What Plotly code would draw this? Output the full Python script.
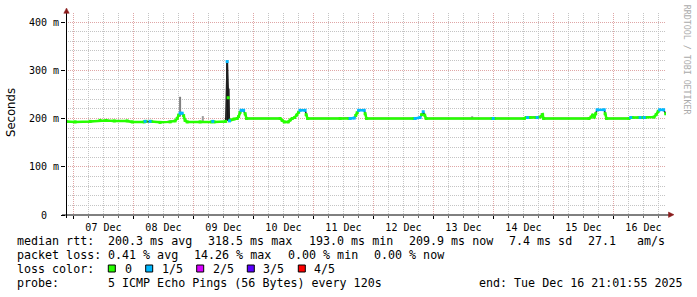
import plotly.graph_objects as go

# ---------------- data ----------------
start_time = "2025-12-06 21:01:55"
end_time = "2025-12-16 21:01:55"

times = [
    "2025-12-06 21:05", "2025-12-07 00:40", "2025-12-07 06:40", "2025-12-07 10:40", "2025-12-07 13:05",
    "2025-12-07 16:20", "2025-12-07 21:30", "2025-12-07 23:30", "2025-12-08 04:20", "2025-12-08 04:40",
    "2025-12-08 05:05", "2025-12-08 06:40", "2025-12-08 07:05", "2025-12-08 10:40", "2025-12-08 14:40",
    "2025-12-08 16:40", "2025-12-08 17:30", "2025-12-08 18:05", "2025-12-08 18:40", "2025-12-08 19:30",
    "2025-12-08 20:05", "2025-12-08 20:40", "2025-12-08 21:30", "2025-12-09 02:40", "2025-12-09 07:20",
    "2025-12-09 07:45", "2025-12-09 08:15", "2025-12-09 12:55", "2025-12-09 13:30", "2025-12-09 13:55",
    "2025-12-09 14:25", "2025-12-09 14:55", "2025-12-09 16:15", "2025-12-09 17:30", "2025-12-09 18:05",
    "2025-12-09 18:40", "2025-12-09 19:05", "2025-12-09 20:05", "2025-12-09 20:40", "2025-12-09 21:15",
    "2025-12-10 10:40", "2025-12-10 11:30", "2025-12-10 12:20", "2025-12-10 13:55", "2025-12-10 14:40",
    "2025-12-10 15:30", "2025-12-10 16:30", "2025-12-10 17:20", "2025-12-10 18:05", "2025-12-10 18:40",
    "2025-12-10 20:40", "2025-12-10 21:05", "2025-12-10 21:40", "2025-12-11 10:40", "2025-12-11 14:15",
    "2025-12-11 14:40", "2025-12-11 16:20", "2025-12-11 16:55", "2025-12-11 17:30", "2025-12-11 18:05",
    "2025-12-11 20:20", "2025-12-11 20:40", "2025-12-11 21:15", "2025-12-12 16:15", "2025-12-12 16:40",
    "2025-12-12 18:40", "2025-12-12 19:15", "2025-12-12 19:55", "2025-12-12 20:30", "2025-12-12 21:05",
    "2025-12-13 23:30", "2025-12-13 23:55", "2025-12-14 00:20", "2025-12-14 12:20", "2025-12-14 13:05",
    "2025-12-14 13:40", "2025-12-14 14:40", "2025-12-14 17:05", "2025-12-14 17:30", "2025-12-14 18:40",
    "2025-12-14 19:40", "2025-12-14 20:05", "2025-12-15 14:15", "2025-12-15 15:05", "2025-12-15 15:40",
    "2025-12-15 16:20", "2025-12-15 16:55", "2025-12-15 17:30", "2025-12-15 20:20", "2025-12-15 20:40",
    "2025-12-15 21:15", "2025-12-16 06:15", "2025-12-16 06:55", "2025-12-16 07:30", "2025-12-16 10:15",
    "2025-12-16 10:40", "2025-12-16 11:15", "2025-12-16 12:20", "2025-12-16 12:40", "2025-12-16 16:15",
    "2025-12-16 17:05", "2025-12-16 17:55", "2025-12-16 18:30", "2025-12-16 20:05", "2025-12-16 20:55",
]
median_ms = [
    194, 193, 194, 196, 196,
    195, 195, 193, 193, 194,
    194, 194, 194, 192, 193,
    195, 200, 207, 211, 211,
    206, 196, 193, 193, 193,
    194, 193, 194, 318, 243,
    195, 197, 199, 200, 204,
    213, 217, 217, 210, 200,
    200, 196, 193, 193, 197,
    200, 202, 207, 213, 217,
    217, 208, 200, 200, 200,
    200, 201, 206, 212, 217,
    217, 210, 200, 200, 200,
    202, 208, 214, 207, 200,
    200, 200, 200, 200, 202,
    202, 202, 202, 202, 203,
    208, 200, 200, 203, 207,
    203, 210, 218, 218, 210,
    200, 200, 202, 202, 202,
    202, 202, 202, 202, 203,
    208, 215, 218, 218, 210,
]
loss = [
    0, 0, 0, 0, 0,
    0, 0, 0, 0, 1,
    0, 1, 0, 0, 0,
    0, 0, 0, 1, 1,
    0, 0, 0, 0, 0,
    1, 0, 0, 1, 0,
    1, 0, 0, 0, 0,
    0, 1, 1, 0, 0,
    0, 0, 0, 0, 0,
    0, 0, 0, 0, 1,
    1, 0, 0, 0, 0,
    1, 1, 0, 0, 1,
    1, 0, 0, 0, 1,
    1, 0, 1, 0, 0,
    0, 1, 0, 0, 0,
    1, 0, 0, 1, 0,
    0, 0, 0, 0, 0,
    0, 0, 1, 1, 0,
    0, 0, 1, 0, 0,
    1, 0, 1, 0, 0,
    0, 0, 1, 1, 0,
]

# smoke (spread of the pings) at a few moments
smoke_times = ["2025-12-08 18:40", "2025-12-09 03:45", "2025-12-09 13:30", "2025-12-09 14:05",
               "2025-12-13 15:30", "2025-12-14 19:15"]
smoke_lo = [204, 193, 195, 195, 200, 202]
smoke_hi = [245, 205, 318, 262, 205, 211]
smoke_col = ["#808080", "#9a9a9a", "#111111", "#222222", "#a8a8a8", "#999999"]

loss_labels = ["0", "1/5", "2/5", "3/5", "4/5"]
loss_colors = ["#26ff00", "#00b8ff", "#d800ff", "#5a00ff", "#ff0000"]

y_ticks = [0, 100, 200, 300, 400]
y_ticktext = ["0\u00a0\u00a0", "100 m", "200 m", "300 m", "400 m"]
y_minor_step = 20

stats_line1 = [("median rtt:", 16), ("200.3 ms avg", 107.3), ("318.5 ms max", 207.3),
               ("193.0 ms min", 308.3), ("209.9 ms now", 407.7), ("7.4 ms sd", 507.7),
               ("27.1", 586.7), ("am/s", 635.7)]
stats_line2 = [("packet loss:", 16), ("0.41 % avg", 107.3), ("14.26 % max", 193.3),
               ("0.00 % min", 286.7), ("0.00 % now", 372.7)]
probe_line = [("probe:", 16), ("5 ICMP Echo Pings (56 Bytes) every 120s", 107.3),
              ("end: Tue Dec 16 21:01:55 2025", 478.3)]

# ---------------- geometry ----------------
W, H = 697, 297
PL, PR, PT, PB = 66, 666, 13, 215
YMAX = 418.65
MONO = "DejaVu Sans Mono"


def px(x):
    return (x - PL) / (PR - PL)


def py(y):
    return (PB - y) / (PB - PT)


fig = go.Figure()

# smoke
for t, lo, hi, c in zip(smoke_times, smoke_lo, smoke_hi, smoke_col):
    fig.add_trace(go.Scatter(x=[t, t], y=[lo, hi], mode="lines",
                             line=dict(color=c, width=2), hoverinfo="skip"))

# full median (dark, shows at loss transitions)
fig.add_trace(go.Scatter(x=times, y=median_ms, mode="lines",
                         line=dict(color="#202020", width=1.5), hoverinfo="skip"))

# median coloured by loss class
for cls in range(len(loss_colors)):
    yv = [v if l == cls else None for v, l in zip(median_ms, loss)]
    if all(v is None for v in yv):
        continue
    fig.add_trace(go.Scatter(x=times, y=yv, mode="lines+markers",
                             line=dict(color=loss_colors[cls], width=2.5),
                             marker=dict(color=loss_colors[cls], size=3, symbol="square"),
                             connectgaps=False, hoverinfo="skip"))

red_grid = "#dfa6a6"
gray_grid = "#c4c4c4"

y_minor_vals = [v for v in range(0, int(YMAX) + 1, y_minor_step) if v not in y_ticks]

fig.update_layout(
    width=W, height=H,
    margin=dict(l=PL, r=W - PR, t=PT, b=H - PB, pad=0),
    paper_bgcolor="white", plot_bgcolor="white",
    showlegend=False,
    xaxis=dict(
        type="date", range=[start_time, end_time],
        tick0="2025-12-07", dtick=86400000, tickformat="%d %b",
        ticklabelmode="period",
        showgrid=True, gridcolor=red_grid, griddash="1px,1px", gridwidth=1,
        ticks="outside", ticklen=3, tickcolor="#000",
        tickfont=dict(family=MONO, size=10, color="#000"),
        showline=False, zeroline=False,
        minor=dict(dtick=21600000, tick0="2025-12-07", showgrid=True,
                   gridcolor=gray_grid, griddash="1px,1px", gridwidth=1,
                   ticks="outside", ticklen=2, tickcolor="#666"),
    ),
    yaxis=dict(
        range=[0, YMAX], tickvals=y_ticks, ticktext=y_ticktext,
        showgrid=True, gridcolor=red_grid, griddash="1px,1px", gridwidth=1,
        ticks="outside", ticklen=4, tickcolor="#000",
        tickfont=dict(family=MONO, size=10, color="#000"),
        showline=False, zeroline=False,
        minor=dict(tickmode="array", tickvals=y_minor_vals, showgrid=True, gridcolor=gray_grid,
                   griddash="1px,1px", gridwidth=1, ticks=""),
    ),
)

shapes = []
# axes lines
shapes.append(dict(type="line", xref="paper", yref="paper", x0=px(62), x1=px(670), y0=py(215), y1=py(215),
                   line=dict(color="#000", width=1)))
shapes.append(dict(type="line", xref="paper", yref="paper", x0=px(66.5), x1=px(66.5), y0=py(218), y1=py(11),
                   line=dict(color="#000", width=1)))
# arrows
arrow_col = "#8a1c1c"
shapes.append(dict(type="path", xref="paper", yref="paper",
                   path=f"M {px(668.5)} {py(212)} L {px(674)} {py(214.7)} L {px(668.5)} {py(217.4)} Z",
                   fillcolor=arrow_col, line=dict(color=arrow_col, width=0.5)))
shapes.append(dict(type="path", xref="paper", yref="paper",
                   path=f"M {px(63.8)} {py(13.3)} L {px(66.5)} {py(8)} L {px(69.2)} {py(13.3)} Z",
                   fillcolor=arrow_col, line=dict(color=arrow_col, width=0.5)))

annotations = []
LEG_FONT = dict(family=MONO, size=11.67, color="#000")
line_y = [240.8, 255.0, 269.2, 283.4]


def add_text(text, x, y):
    annotations.append(dict(text=text, xref="paper", yref="paper", x=px(x - 1), y=py(y),
                            xanchor="left", yanchor="middle", showarrow=False, font=LEG_FONT))


for t, x in stats_line1:
    add_text(t, x, line_y[0])
for t, x in stats_line2:
    add_text(t, x, line_y[1])
add_text("loss color:", 16, line_y[2])
box_x = [108.3, 145.7, 196.7, 247.3, 298.3]
lab_x = [124, 160.7, 211.7, 262.3, 313.3]
for lab, col, bx, lx in zip(loss_labels, loss_colors, box_x, lab_x):
    shapes.append(dict(type="rect", xref="paper", yref="paper",
                       x0=px(bx), x1=px(bx + 7), y0=py(272), y1=py(265),
                       fillcolor=col, line=dict(color="#000", width=1)))
    add_text(lab, lx, line_y[2])
for t, x in probe_line:
    add_text(t, x, line_y[3])

# y axis title
annotations.append(dict(text="Seconds", xref="paper", yref="paper", x=px(11), y=py(113),
                        xanchor="center", yanchor="middle", textangle=-90, showarrow=False,
                        font=dict(family="DejaVu Sans", size=11.67, color="#000")))
# watermark
annotations.append(dict(text="RRDTOOL / TOBI OETIKER", xref="paper", yref="paper", x=px(687.3), y=py(60),
                        xanchor="center", yanchor="middle", textangle=90, showarrow=False,
                        font=dict(family=MONO, size=8.3, color="#aaaaaa")))

fig.update_layout(shapes=shapes, annotations=annotations)
fig.write_html("out.html")
